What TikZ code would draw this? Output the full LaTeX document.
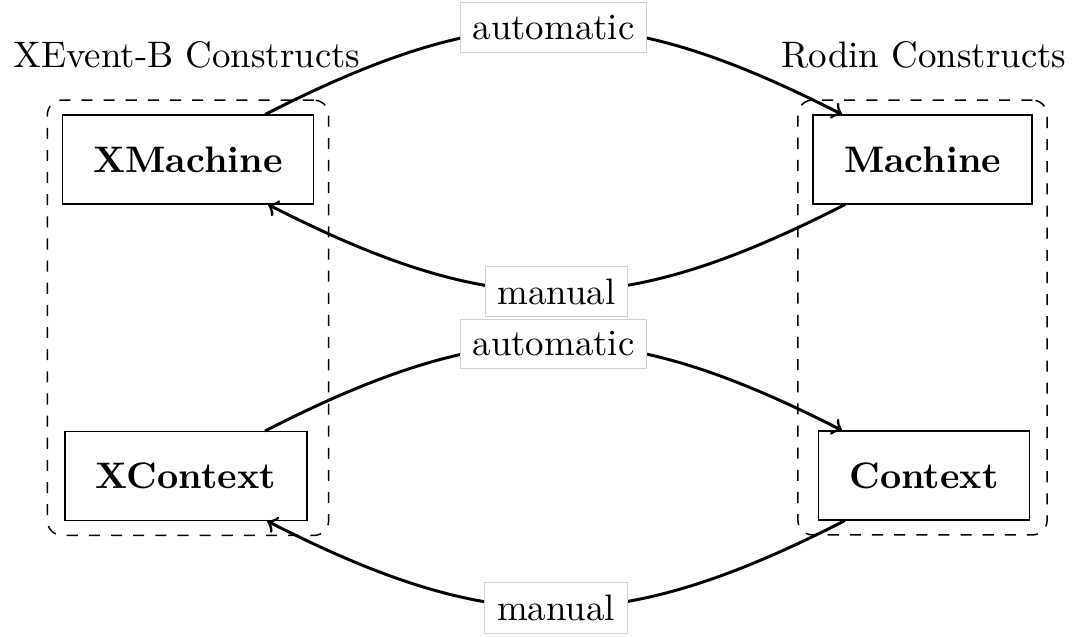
\documentclass[tikz,border=0pt]{standalone}
\usetikzlibrary{fit}
\begin{document}
\begin{tikzpicture}[x=0.271pt,y=0.271pt,
  construct/.style={draw, font=\bfseries, inner xsep=8.4pt, minimum height=24pt},
  group/.style={draw, dashed, rounded corners=4pt, inner sep=3.9pt},
  conv/.style={thick,->},
  lbl/.style={fill=white, draw=black!18, line width=0.25pt, inner sep=3.33pt}]
\useasboundingbox (0,0) rectangle (1080,-636);
\node[construct] (XMachine) at (188,-159.5) {XMachine};
\node[construct] (Machine) at (922.5,-159.5) {Machine};
\node[construct] (XContext) at (186,-476) {XContext};
\node[construct] (Context) at (924,-475.5) {Context};
\node[group, fit=(XMachine)(XContext)] (XGroup) {};
\node[group, fit=(Machine)(Context)] (RGroup) {};
\node (XTitle) at (187,-55) {XEvent-B Constructs};
\node (RTitle) at (924,-55) {Rodin Constructs};
\draw[conv] ([xshift=20.9pt]XMachine.north) .. controls +(227,116) and +(-227,116) .. node[lbl] (A1) {automatic} ([xshift=-21.8pt]Machine.north);
\draw[conv] ([xshift=-21pt]Machine.south) .. controls +(-227,-116) and +(227,-116) .. node[lbl] (M1) {manual} ([xshift=21.7pt]XMachine.south);
\draw[conv] ([xshift=21.4pt]XContext.north) .. controls +(227,116) and +(-227,116) .. node[lbl] (A2) {automatic} ([xshift=-22.2pt]Context.north);
\draw[conv] ([xshift=-21.4pt]Context.south) .. controls +(-227,-116) and +(227,-116) .. node[lbl] (M2) {manual} ([xshift=22pt]XContext.south);
\end{tikzpicture}
\end{document}
